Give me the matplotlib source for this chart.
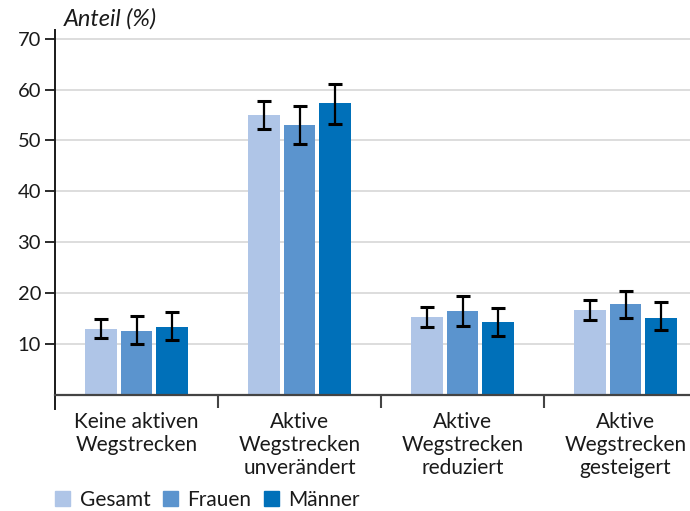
import numpy as np
import matplotlib
matplotlib.use("Agg")
import matplotlib.pyplot as plt
from matplotlib.patches import Patch

# data
categories = ["Keine aktiven\nWegstrecken",
              "Aktive\nWegstrecken\nunverändert",
              "Aktive\nWegstrecken\nreduziert",
              "Aktive\nWegstrecken\ngesteigert"]
series = ["Gesamt", "Frauen", "Männer"]
gesamt = [13.0, 55.0, 15.3, 16.6]
frauen = [12.6, 53.0, 16.5, 17.8]
maenner = [13.3, 57.3, 14.3, 15.1]
gesamt_lo = [11.2, 52.3, 13.4, 14.7]
gesamt_hi = [14.9, 57.7, 17.2, 18.6]
frauen_lo = [10.1, 49.4, 13.6, 15.1]
frauen_hi = [15.5, 56.7, 19.4, 20.5]
maenner_lo = [10.8, 53.3, 11.6, 12.7]
maenner_hi = [16.3, 61.0, 17.0, 18.2]

COLORS = ["#afc5e7", "#5b94ce", "#0070b9"]
plt.rcParams["font.family"] = ["Lato", "DejaVu Sans"]
TXT = "#1a1a1a"

fig = plt.figure(figsize=(6.9, 5.11), dpi=100)
ax = fig.add_axes([55 / 690, (511 - 395) / 511, 652 / 690, (395 - 30) / 511])

x = np.arange(len(categories))
step = 0.215
width = 0.196
vals = [gesamt, frauen, maenner]
los = [gesamt_lo, frauen_lo, maenner_lo]
his = [gesamt_hi, frauen_hi, maenner_hi]
for i, (v, lo, hi) in enumerate(zip(vals, los, his)):
    v = np.array(v)
    err = [v - np.array(lo), np.array(hi) - v]
    xs = x + (i - 1) * step
    ax.bar(xs, v, width, color=COLORS[i], zorder=2)
    ax.errorbar(xs, v, yerr=err, fmt="none", ecolor="black",
                elinewidth=1.6, capsize=5, capthick=2.2, zorder=3)

ax.set_xlim(-0.5, 3.5)
ax.set_ylim(0, 71.7)
ax.set_yticks([10, 20, 30, 40, 50, 60, 70])
ax.yaxis.grid(True, color="#dadada", linewidth=1.3, zorder=0)
ax.set_axisbelow(True)

ax.set_xticks([0.5, 1.5, 2.5])
ax.set_xticklabels([])
ax.set_xticks(x, minor=True)
ax.set_xticklabels(categories, minor=True, fontsize=15, color=TXT, linespacing=1.2)
ax.tick_params(axis="x", which="major", length=9.5, width=1.5, color="#444444", direction="out")
ax.tick_params(axis="x", which="minor", length=0, pad=12)
ax.tick_params(axis="y", length=7, width=1.3, color=TXT, labelsize=14.5, labelcolor=TXT, pad=3)

for s in ["top", "right"]:
    ax.spines[s].set_visible(False)
ax.spines["left"].set_linewidth(1.4)
ax.spines["left"].set_color(TXT)
ax.spines["bottom"].set_linewidth(1.6)
ax.spines["bottom"].set_color("#444444")
# y spine runs on below the x axis
ax.plot([0, 0], [0, -0.037], transform=ax.transAxes, color=TXT, lw=1.4, clip_on=False)

ax.text(0.014, 1.0, "Anteil (%)", transform=ax.transAxes, fontsize=17,
        style="italic", color=TXT, va="bottom", ha="left")

handles = [Patch(color=c, label=s) for c, s in zip(COLORS, series)]
fig.legend(handles=handles, loc="lower left", bbox_to_anchor=(0.053, -0.034), ncol=3,
           frameon=False, fontsize=15, handlelength=0.72, handleheight=0.72,
           handletextpad=0.45, columnspacing=0.6, labelcolor=TXT)

fig.savefig("out.png", dpi=100)
